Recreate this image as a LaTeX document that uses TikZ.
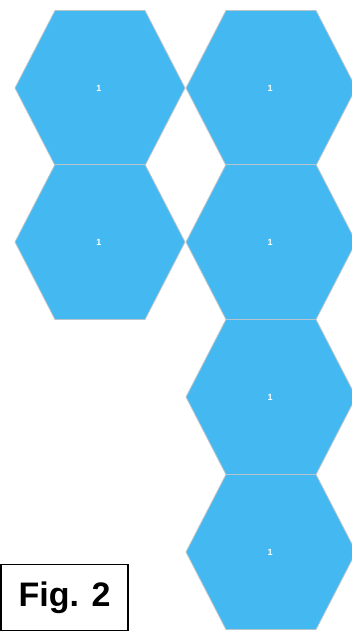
\documentclass[tikz,border=0pt]{standalone}
\usepackage{fontspec}
\setmainfont{Liberation Sans}
\definecolor{hexblue}{HTML}{44B9F1}
\definecolor{hexedge}{HTML}{B8C4CC}
\begin{document}
\begin{tikzpicture}[x=1pt,y=-1pt,
  hexcell/.style={fill=hexblue,draw=hexedge,line width=0.8pt,line join=round},
  hexlabel/.style={text=white,font=\bfseries\fontsize{9}{9}\selectfont,inner sep=0pt},
  figbox/.style={draw=black,line width=1.6pt,fill=white,minimum width=127pt,minimum height=66pt,inner sep=0pt,font=\bfseries\fontsize{34}{34}\selectfont}]
\useasboundingbox (0,0) rectangle (352,634);
\foreach \cx/\cy/\nm in {100/88/a, 271/88/b, 100/242/c, 271/242/d, 271/397/e, 271/552/f}{
  \path[hexcell] (\cx-85,\cy) -- (\cx-45,\cy-77.5) -- (\cx+45,\cy-77.5) -- (\cx+85,\cy) -- (\cx+45,\cy+77.5) -- (\cx-45,\cy+77.5) -- cycle;
  \node[hexlabel] (\nm) at (\cx-1,\cy) {1};
}
\node[figbox] (fig) at (64.5,597.5) {Fig. 2};
\end{tikzpicture}
\end{document}
